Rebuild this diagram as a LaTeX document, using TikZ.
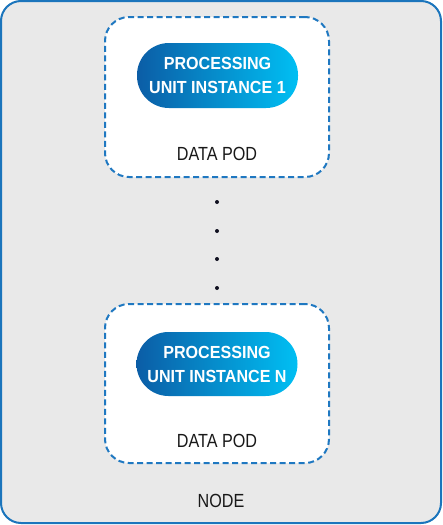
\documentclass[tikz,border=0pt]{standalone}
\usepackage{fontspec}
\setmainfont{Liberation Sans}
\newfontfamily\labelfont[FakeStretch=0.85]{Liberation Sans}
\newfontfamily\pillfont[FakeStretch=0.92]{Liberation Sans}
\definecolor{nodefill}{HTML}{E9E9E9}
\definecolor{nodeline}{HTML}{1B75BC}
\definecolor{podline}{HTML}{1F78C1}
\definecolor{pillA}{HTML}{0B5DA6}
\definecolor{pillB}{HTML}{0070BA}
\definecolor{pillC}{HTML}{00BFF3}
\definecolor{dotcol}{HTML}{101020}
\begin{document}
\begin{tikzpicture}[x=1pt,y=-1pt,
  outerbox/.style={draw=nodeline, line width=2pt, fill=nodefill, rounded corners=20pt},
  podbox/.style={draw=podline, line width=2pt, dash pattern=on 6pt off 3.5pt, fill=white, rounded corners=24pt, minimum width=224pt, minimum height=160pt, inner sep=0pt},
  pillbox/.style={rounded corners=32pt, left color=pillA, middle color=pillB, right color=pillC, minimum width=161pt, minimum height=65pt, inner sep=0pt, text=white, align=center, font=\pillfont\bfseries\fontsize{17.5}{24}\selectfont},
  plainlabel/.style={text=black!90, inner sep=0pt, font=\labelfont\fontsize{19}{20}\selectfont},
  dotmark/.style={circle, fill=dotcol, minimum size=4pt, inner sep=0pt}
]
\useasboundingbox (0,0) rectangle (443,525);
\node[outerbox, minimum width=440pt, minimum height=522pt, inner sep=0pt] (nodebox) at (221,262) {};
\node[podbox] (pod1) at (217,97) {};
\node[podbox, minimum height=159pt] (pod2) at (217,383.5) {};
\node[pillbox] (pill1) at (217.5,75.5) {PROCESSING\\UNIT INSTANCE 1};
\node[pillbox, minimum height=64pt] (pill2) at (217,364) {PROCESSING\\UNIT INSTANCE N};
\node[plainlabel] (dp1) at (217,154.2) {DATA POD};
\node[plainlabel] (dp2) at (217,441) {DATA POD};
\node[plainlabel] (nodelabel) at (221,501) {NODE};
\node[dotmark] (d1) at (217,202) {};
\node[dotmark] (d2) at (217,231) {};
\node[dotmark] (d3) at (217,259) {};
\node[dotmark] (d4) at (217,288) {};
\end{tikzpicture}
\end{document}
